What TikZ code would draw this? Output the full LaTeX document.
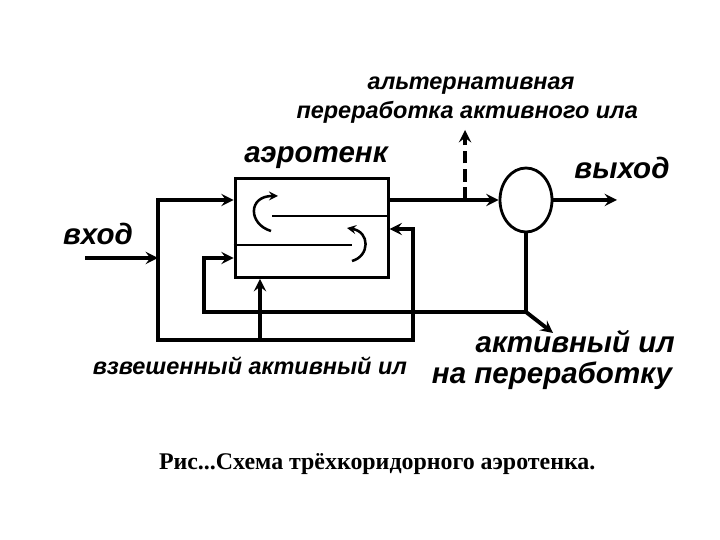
\documentclass[tikz,border=0pt]{standalone}
\usepackage{fontspec}
\setmainfont{Liberation Sans}
\newfontfamily\capfont{Liberation Serif}
\usetikzlibrary{shapes.geometric, arrows}
\tikzstyle{tankbox} = [rectangle, minimum width=3.825cm, minimum height=2.475cm, inner sep=0, line width=2pt, draw=black]
\tikzstyle{settler} = [ellipse, minimum width=1.3cm, minimum height=1.6cm, inner sep=0, line width=2pt, draw=black]
\tikzstyle{flow} = [line width=2.8pt,->,>=stealth]
\tikzstyle{pipe} = [line width=2.8pt,line cap=rect]
\tikzstyle{wall} = [line width=2pt]
\tikzstyle{swirl} = [line width=1.8pt,->,>=stealth]
\tikzstyle{lab} = [font=\bfseries\itshape\fontsize{21}{21}\selectfont, inner sep=0]
\tikzstyle{smalllab} = [font=\bfseries\itshape\fontsize{16.7}{17}\selectfont, inner sep=0]

\begin{document}
\begin{tikzpicture}
\useasboundingbox (0,0) rectangle (18,13.5);
\fill[white] (0,0) rectangle (18,13.5);

\node[tankbox] (tank) at (7.79,7.8) {};
\node[settler] (sep) at (13.15,8.5) {};

\coordinate (inlet) at (2.125,7.05);
\coordinate (split) at (3.95,7.05);
\coordinate (feedtop) at (3.95,8.5);
\coordinate (feedbot) at (3.95,5);
\coordinate (feedin) at (tank.west |- feedtop);
\coordinate (bypass) at (10.325,5);
\coordinate (bypasstop) at (10.325,7.775);
\coordinate (bypassin) at (tank.east |- bypasstop);
\coordinate (stir) at (6.5,5);
\coordinate (tee) at (13.15,5.7);
\coordinate (retcorner) at (5.1,5.7);
\coordinate (retup) at (5.1,7.05);
\coordinate (retin) at (tank.west |- retup);
\coordinate (tankout) at (tank.east |- feedtop);
\coordinate (alt) at (11.625,8.5);
\coordinate (alttop) at (11.625,10.25);
\coordinate (outlet) at (15.425,8.5);
\coordinate (waste) at (13.825,5.175);

\draw[flow] (inlet)--(split);
\draw[flow,<->] (feedin)--(feedtop)--(feedbot)--(bypass)--(bypasstop)--(bypassin);
\draw[flow] (stir)--(stir |- tank.south);
\draw[flow] (tee)--(retcorner)--(retup)--(retin);
\draw[flow] (tankout)--(sep.west);
\draw[flow,dash pattern=on 9pt off 4pt] (alt)--(alttop);
\draw[flow] (sep.east)--(outlet);
\draw[pipe] (sep.south)--(tee);
\draw[flow] (tee)--(waste);

\draw[wall] (6.8,8.1)--(tank.east |- 0,8.1);
\draw[wall] (tank.west |- 0,7.375)--(8.8,7.375);
\draw[swirl] (6.775,7.725) .. controls (6.2,7.9) and (6.2,8.6) .. (6.95,8.6);
\draw[swirl] (8.8,6.975) .. controls (9.25,7.1) and (9.25,7.7) .. (8.675,7.8);

\node[smalllab] (altlab) at (11.775,11.35) {альтернативная};
\node[smalllab] (procelab) at (11.68,10.7) {переработка активного ила};
\node[lab] (tanklab) at (7.9,9.55) {аэротенк};
\node[lab] (outlab) at (15.55,9.3) {выход};
\node[lab] (inlab) at (2.45,7.65) {вход};
\node[smalllab] (susplab) at (6.25,4.35) {взвешенный активный ил};
\node[lab] (activelab) at (14.38,4.95) {активный ил};
\node[lab] (wastelab) at (13.8,4.1) {на переработку};
\node[font=\capfont\bfseries\fontsize{17}{17}\selectfont, inner sep=0] (caption) at (9.43,1.9) {Рис...Схема трёхкоридорного аэротенка.};
\end{tikzpicture}
\end{document}
